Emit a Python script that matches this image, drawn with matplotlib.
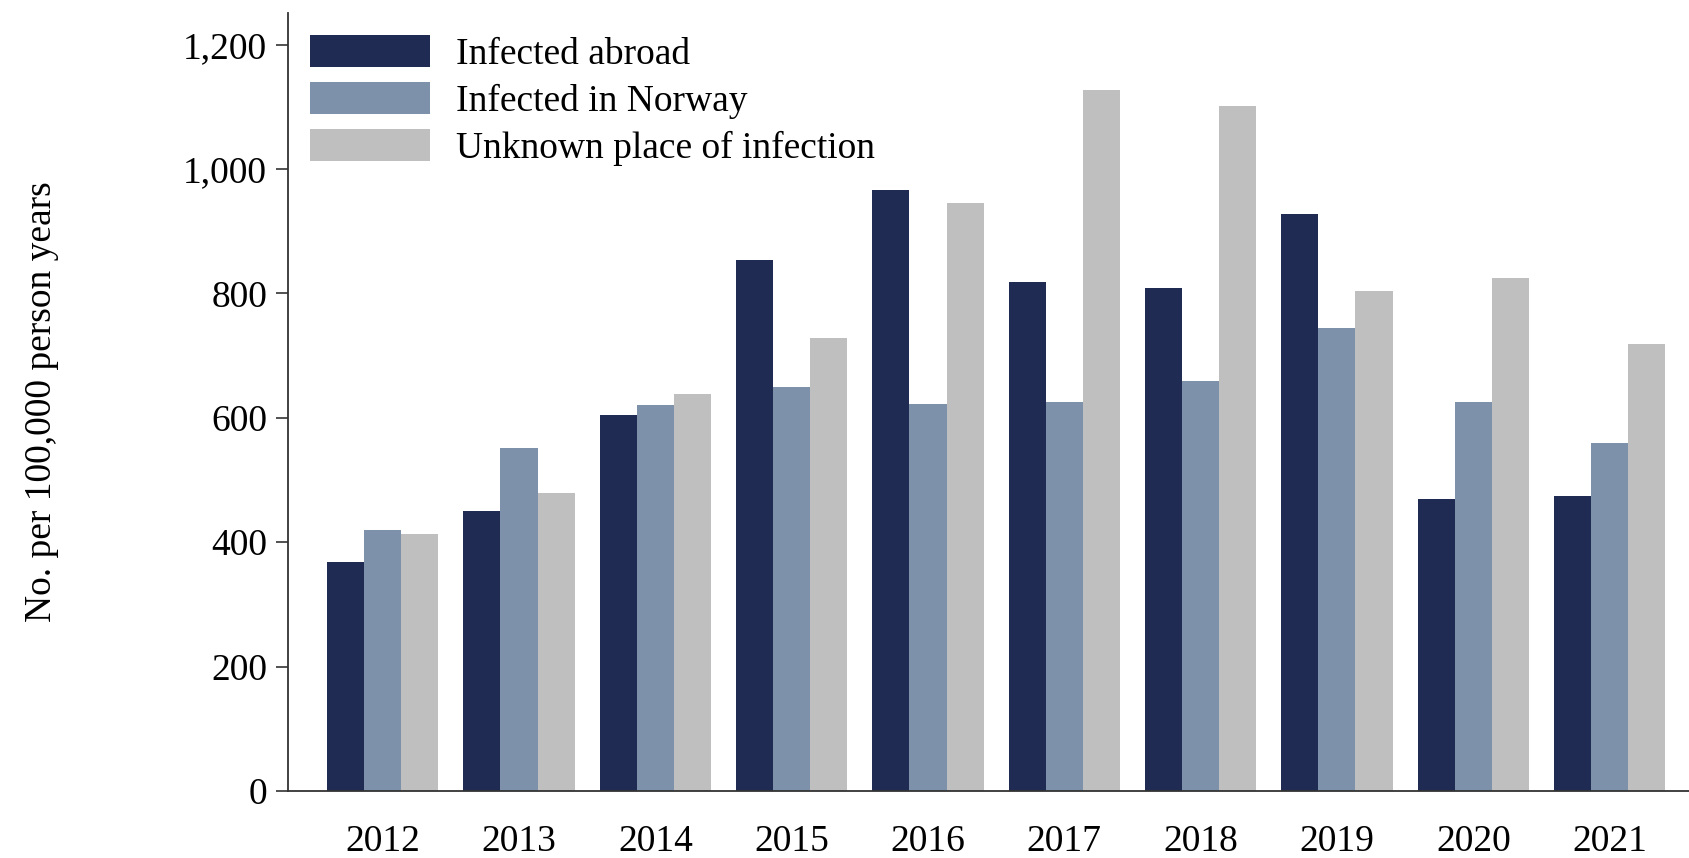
import numpy as np
import matplotlib.pyplot as plt

years = ["2012", "2013", "2014", "2015", "2016", "2017", "2018", "2019", "2020", "2021"]
abroad = [368, 450, 605, 854, 966, 818, 808, 927, 469, 474]
norway = [419, 552, 621, 650, 623, 625, 660, 745, 625, 559]
unknown = [414, 479, 639, 728, 945, 1127, 1101, 804, 825, 719]

labels = ["Infected abroad", "Infected in Norway", "Unknown place of infection"]
colors = ["#1f2b52", "#7d91aa", "#bfbfbf"]

plt.rcParams["font.family"] = ["Liberation Serif", "DejaVu Serif"]

fig = plt.figure(figsize=(16.9, 8.58), dpi=100)
ax = fig.add_axes([0.1704, 0.0781, 0.8296, 0.9068])

x = np.arange(len(years))
w = 0.272
for i, (vals, lab, col) in enumerate(zip([abroad, norway, unknown], labels, colors)):
    ax.bar(x + (i - 1) * w, vals, width=w, color=col, label=lab, zorder=2)

ax.set_xlim(-0.695, 9.59)
ax.set_ylim(0, 1251)
ax.set_yticks([0, 200, 400, 600, 800, 1000, 1200])
ax.set_yticklabels(["0", "200", "400", "600", "800", "1,000", "1,200"])
ax.set_xticks(x)
ax.set_xticklabels(years)
ax.tick_params(axis="both", labelsize=27, color="#333333", width=1.2)
ax.tick_params(axis="y", length=9, pad=6)
ax.tick_params(axis="x", length=0, pad=24)
ax.spines[["top", "right"]].set_visible(False)
for s in ["left", "bottom"]:
    ax.spines[s].set_color("#333333")
    ax.spines[s].set_linewidth(1.3)

ax.set_ylabel("No. per 100,000 person years", fontsize=27)
ax.yaxis.set_label_coords(-0.1636, 0.5)

ax.legend(loc="upper left", bbox_to_anchor=(0.0, 1.0), frameon=False, fontsize=27,
          handlelength=3.2, handleheight=0.9, handletextpad=0.67, labelspacing=0.28,
          borderaxespad=0.2)

fig.savefig("out.png", dpi=100)
